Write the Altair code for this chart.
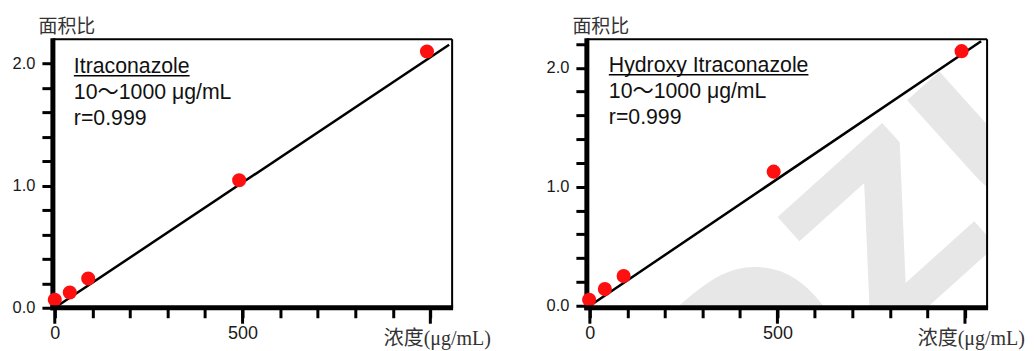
import altair as alt
import pandas as pd

# Calibration data: concentration (µg/mL) vs. peak area ratio
itra_conc = [0, 40, 89, 491, 991]
itra_ratio = [0.065, 0.125, 0.24, 1.045, 2.10]
itra_fit_conc = [0, 1050]
itra_fit_ratio = [0.0, 2.155]

hydroxy_conc = [-2, 40, 90, 490, 991]
hydroxy_ratio = [0.05, 0.14, 0.25, 1.127, 2.14]
hydroxy_fit_conc = [0, 1043]
hydroxy_fit_ratio = [0.0, 2.223]

# Axis ticks and labels
x_ticks = [0, 100, 200, 300, 400, 500, 600, 700, 800, 900, 1000]
x_major = [0, 500, 1000]
itra_y_ticks = [0.0, 0.2, 0.4, 0.6, 0.8, 1.0, 1.2, 1.4, 1.6, 1.8, 2.0]
hydroxy_y_ticks = [0.0, 0.2, 0.4, 0.6, 0.8, 1.0, 1.2, 1.4, 1.6, 1.8, 2.0, 2.2]

compound_names = ["Itraconazole", "Hydroxy Itraconazole"]
range_text = "10～1000 μg/mL"
r_text = "r=0.999"
y_title = "面积比"
x_title = "浓度(μg/mL)"

# Faint background watermark in the right panel
watermark_text = "DZU"

SANS = "Liberation Sans, Noto Sans CJK SC"
TITLE_FONT = "Liberation Serif, Noto Sans CJK SC"
H = 269


def panel(name, conc, ratio, fit_c, fit_r, x_dom, y_dom, y_ticks, W,
          underline_w, text_x, base_y, bound_x, bound_x2, watermark=False):
    x_axis = alt.Axis(
        values=x_ticks,
        labelExpr="datum.value == 0 || datum.value == 500 ? datum.label : ''",
        tickSize=10, tickWidth=3, tickColor="black", domain=False,
        labelFont=SANS, labelFontSize=18, labelColor="#1a1a1a",
        labelPadding=7, labelFlush=False, labelOverlap=False,
        grid=False, zindex=1,
        title=x_title, titleFont=TITLE_FONT, titleFontSize=20,
        titleFontWeight="normal", titleColor="#333333",
        titleAlign="left", titleBaseline="middle", titleX=331, titleY=31,
    )
    y_axis = alt.Axis(
        values=y_ticks,
        labelExpr="datum.value == 0 || datum.value == 1 || datum.value == 2 ? format(datum.value, '.1f') : ''",
        tickSize=11, tickWidth=3, tickColor="black", domain=False,
        labelFont=SANS, labelFontSize=16.5, labelColor="#1a1a1a",
        labelPadding=7, labelFlush=False, labelOverlap=False,
        grid=False,
        title=y_title, titleFont="Noto Sans CJK SC", titleFontSize=19,
        titleFontWeight="normal", titleColor="#333333", titleAngle=0,
        titleAlign="left", titleBaseline="middle", titleX=-15, titleY=-13,
    )
    X = alt.X("c:Q", scale=alt.Scale(domain=x_dom, nice=False, zero=False), axis=x_axis)
    Y = alt.Y("r:Q", scale=alt.Scale(domain=y_dom, nice=False, zero=False), axis=y_axis)

    pts = pd.DataFrame({"c": conc, "r": ratio})
    fit = pd.DataFrame({"c": fit_c, "r": fit_r})
    major = pd.DataFrame({"c": x_major})
    one = pd.DataFrame({"k": [0]})

    def hline(y, x1, x2, w):
        return alt.Chart(one).mark_rule(color="black", strokeWidth=w).encode(
            x=alt.value(x1), x2=alt.value(x2), y=alt.value(y))

    def vline(x, y1, y2, w):
        return alt.Chart(one).mark_rule(color="black", strokeWidth=w).encode(
            x=alt.value(x), y=alt.value(y1), y2=alt.value(y2))

    layers = []
    # invisible box spanning the canvas edges, so the page frame is fixed
    layers.append(
        alt.Chart(one).mark_rect(opacity=0).encode(
            x=alt.value(bound_x), x2=alt.value(bound_x2),
            y=alt.value(-38), y2=alt.value(313))
    )
    if watermark:
        layers.append(
            alt.Chart(one).mark_text(
                text=watermark_text, clip=True, angle=318, fontSize=230,
                font="DejaVu Sans", fontWeight="bold", color="#e7e7e7",
                align="center", baseline="alphabetic",
            ).encode(x=alt.value(354), y=alt.value(257))
        )
    # frame: thin top/right, heavy left
    layers.append(hline(0, 0, W, 2))
    layers.append(vline(W, 0, H, 2))
    layers.append(vline(0, -1, H + 2.5, 5))
    layers.append(alt.Chart(fit).mark_line(color="black", strokeWidth=2.5).encode(x=X, y=Y))
    layers.append(alt.Chart(pts).mark_circle(color="#ff1010", opacity=1, size=200).encode(x=X, y=Y))
    # heavy bottom axis line and longer ticks at 0, 500, 1000
    layers.append(hline(H, -2.5, W + 1, 5))
    layers.append(
        alt.Chart(major).mark_rule(color="black", strokeWidth=3).encode(
            x=X, y=alt.value(H + 2), y2=alt.value(H + 16))
    )
    # annotation block
    txt = dict(font=SANS, fontSize=21.3, color="#111111", align="left", baseline="alphabetic")
    for i, t in enumerate([name, range_text, r_text]):
        layers.append(
            alt.Chart(one).mark_text(text=t, **txt).encode(
                x=alt.value(text_x), y=alt.value(base_y + 26 * i))
        )
    layers.append(hline(base_y + 2.5, text_x, text_x + underline_w, 1.6))
    return alt.layer(*layers).properties(width=W, height=H)


left = panel(compound_names[0], itra_conc, itra_ratio, itra_fit_conc, itra_fit_ratio,
             [-5, 1058], [0, 2.2], itra_y_ticks, 400, 116, 21, 34, -52, 400)
right = panel(compound_names[1], hydroxy_conc, hydroxy_ratio, hydroxy_fit_conc, hydroxy_fit_ratio,
              [-8, 1059], [-0.017, 2.24], hydroxy_y_ticks, 401, 200, 22, 33, 0, 447,
              watermark=True)

chart = alt.hconcat(left, right, spacing=135, bounds="flush").properties(
    padding=0
).configure_view(stroke="transparent")

chart.save("out.html", embed_options={"renderer": "svg", "actions": False})
